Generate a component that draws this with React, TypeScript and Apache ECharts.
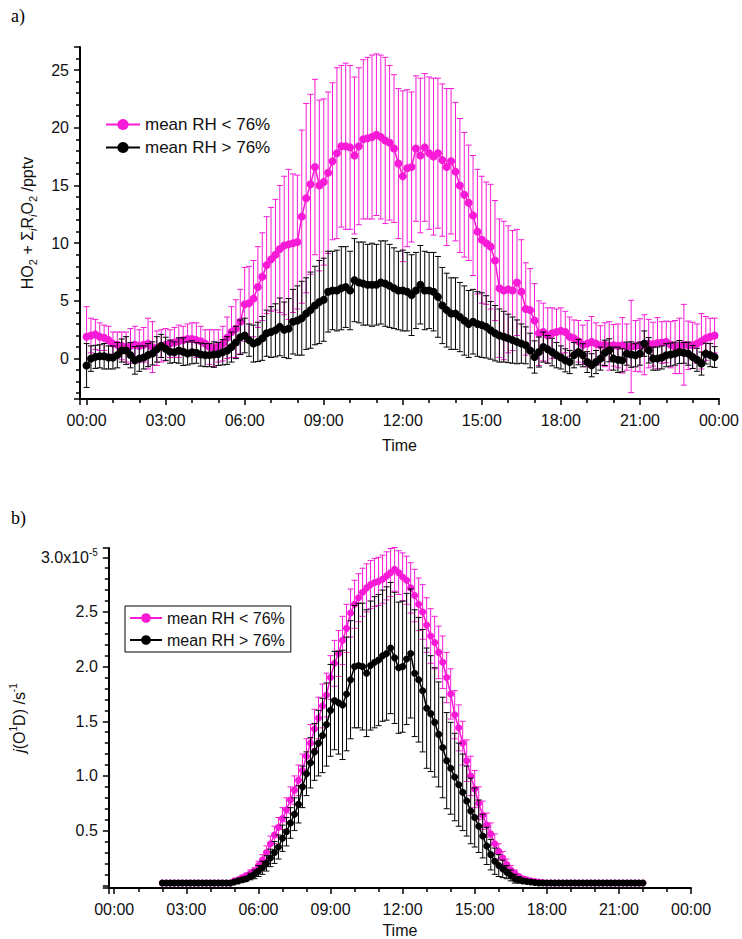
import React, { useEffect, useRef } from 'react';
import * as echarts from 'echarts';

const PINK = '#f81ad6';
const BLACK = '#000000';
const FONT = '"Liberation Sans", Arial, Helvetica, sans-serif';

const NAME_LOW = 'mean RH < 76%';
const NAME_HIGH = 'mean RH > 76%';

// ---- Panel a) HO2 + ΣRO2 (pptv), 10-min means 00:00 .. 23:50 ----
const STEP_A_MIN = 10;
const RO2_LOW = [
  1.9, 2.0, 2.1, 1.9, 1.8, 1.6,
  1.3, 1.2, 1.1, 1.0, 1.1, 1.2,
  1.1, 1.2, 1.3, 1.0, 0.9, 1.1,
  1.2, 1.3, 1.4, 1.5, 1.6, 1.7,
  1.7, 1.6, 1.5, 1.3, 1.0, 0.9,
  1.1, 1.3, 1.8, 2.3, 2.6, 3.2,
  4.7, 4.8, 5.2, 6.2, 7.1, 8.1,
  8.6, 9.0, 9.5, 9.8, 9.9, 10.0,
  10.1, 12.3, 13.9, 15.1, 16.6, 15.0,
  15.3, 16.1, 17.1, 17.8, 18.4, 18.4,
  18.3, 17.6, 18.4, 19.0, 19.1, 19.2,
  19.4, 19.2, 18.9, 18.7, 18.2, 16.9,
  15.8, 16.5, 16.6, 18.2, 17.6, 18.3,
  17.8, 17.5, 17.8, 17.2, 16.6, 17.1,
  16.2, 15.0, 14.2, 13.5, 12.4, 11.0,
  10.3, 10.0, 9.7, 8.5, 6.1, 5.9,
  6.0, 5.9, 6.6, 5.8, 4.3, 4.2,
  3.3, 2.2, 2.3, 2.0, 2.2, 2.3,
  2.4, 2.3, 1.9, 1.75, 1.5, 1.2,
  1.3, 1.45, 1.3, 1.15, 1.2, 1.1,
  1.15, 1.1, 1.15, 1.0, 1.05, 1.1,
  1.15, 1.2, 1.3, 1.25, 1.35, 1.4,
  1.45, 1.2, 1.0, 1.1, 1.2, 1.15,
  1.15, 1.3, 1.5, 1.75, 1.9, 2.0,
];
const RO2_LOW_ERR = [
  2.6, 1.5, 1.3, 1.2, 1.1, 1.2,
  1.0, 1.1, 1.2, 1.3, 1.5, 1.6,
  1.4, 1.5, 2.2, 2.2, 1.5, 1.4,
  1.4, 1.2, 1.3, 1.4, 1.2, 1.3,
  1.4, 1.5, 1.3, 1.2, 1.5, 1.6,
  1.4, 1.5, 1.8, 2.2, 2.5, 2.8,
  3.2, 3.2, 3.3, 3.5, 3.8, 4.2,
  4.5, 4.8, 5.5, 6.0, 6.5, 6.0,
  5.8, 7.5, 8.2, 7.8, 7.6, 7.4,
  7.2, 7.0, 6.8, 7.4, 7.0, 7.2,
  7.1, 6.8, 6.8, 6.9, 7.0, 7.1,
  7.0, 7.1, 7.2, 6.7, 6.4, 6.5,
  7.4, 6.8, 6.5, 6.3, 6.7, 6.4,
  6.6, 6.8, 6.5, 6.6, 6.8, 6.3,
  6.0, 5.8, 5.4, 5.0, 5.2, 5.4,
  5.5, 5.3, 5.4, 5.2, 6.0, 6.0,
  5.5, 5.2, 4.6, 4.5, 4.0, 3.6,
  3.2, 2.8, 2.5, 2.4, 2.2, 2.0,
  2.0, 1.8, 1.7, 1.6, 1.8, 1.7,
  2.0, 2.2, 1.8, 1.7, 1.9, 2.1,
  1.8, 1.9, 2.4, 2.0, 4.0, 2.2,
  2.3, 2.6, 2.1, 1.9, 2.2, 1.8,
  1.8, 2.0, 2.3, 2.4, 3.5, 2.1,
  2.0, 1.7, 2.4, 1.9, 1.6, 1.5,
];
const RO2_HIGH = [
  -0.6, 0.0, 0.15, 0.2, 0.2, 0.1,
  0.1, 0.3, 0.7, 0.7, 0.3, -0.15,
  0.0, 0.1, 0.3, 0.45, 0.8, 1.1,
  0.85, 0.6, 0.55, 0.7, 0.6, 0.45,
  0.55, 0.5, 0.35, 0.3, 0.3, 0.35,
  0.4, 0.55, 0.7, 1.0, 1.4, 1.85,
  2.0, 1.6, 1.3, 1.45, 1.75, 2.2,
  2.3, 2.45, 2.75, 2.5, 2.6, 3.2,
  3.3, 3.5, 3.9, 4.2, 4.6, 4.9,
  5.1, 5.8, 5.9, 5.9, 6.1, 6.2,
  5.9, 6.8, 6.6, 6.5, 6.4, 6.4,
  6.4, 6.6, 6.5, 6.3, 6.1, 5.9,
  5.9, 5.8, 5.5, 5.9, 6.4, 5.9,
  5.9, 5.8, 5.35, 4.6, 4.2, 3.9,
  3.9, 3.6, 3.3, 3.0, 3.2, 3.0,
  2.9, 2.75, 2.45, 2.2, 2.0, 1.9,
  1.75, 1.6, 1.45, 1.3, 1.15, 0.7,
  0.14, 0.57, 1.0, 0.8, 0.57, 0.3,
  0.1, -0.15, -0.3, 0.3, 0.57, 0.29,
  -0.3, -0.58, -0.3, 0.0, 0.5, 0.72,
  0.0, -0.1, -0.14, 0.43, 0.35, 0.29,
  0.43, 1.3, 0.72, 0.0, 0.0, 0.1,
  0.29, 0.35, 0.43, 0.57, 0.5, 0.43,
  0.14, -0.1, -0.43, 0.43, 0.3, 0.14,
];
const RO2_HIGH_ERR = [
  1.9, 1.1, 1.0, 1.0, 1.1, 1.0,
  1.0, 1.1, 1.0, 1.2, 1.1, 1.2,
  1.1, 1.0, 1.0, 1.0, 1.1, 1.0,
  1.0, 1.0, 0.9, 1.1, 1.2, 1.0,
  1.0, 0.9, 1.0, 1.0, 1.0, 1.1,
  1.0, 1.1, 1.2, 1.3, 1.4, 1.5,
  1.5, 1.4, 1.6, 1.7, 1.9, 2.0,
  2.2, 2.3, 2.5, 2.4, 2.6, 2.8,
  3.0, 3.2, 3.1, 3.3, 3.4, 3.6,
  3.6, 3.5, 3.4, 3.5, 3.6, 3.5,
  3.4, 3.6, 3.5, 3.6, 3.5, 3.6,
  3.5, 3.6, 3.7, 3.6, 3.5, 3.4,
  3.5, 3.4, 3.5, 3.3, 3.4, 3.4,
  3.3, 3.4, 3.5, 3.3, 3.2, 3.1,
  3.1, 3.0, 3.0, 2.9, 2.8, 2.8,
  2.8, 2.7, 2.5, 2.4, 2.3, 2.2,
  2.1, 2.0, 1.9, 1.7, 1.6, 1.5,
  1.4, 1.3, 1.3, 1.2, 1.2, 1.1,
  1.0, 1.0, 1.0, 1.1, 1.1, 1.0,
  0.9, 1.0, 1.0, 1.0, 1.1, 1.0,
  1.0, 1.1, 1.0, 1.0, 1.1, 1.0,
  1.0, 1.1, 1.1, 1.0, 1.0, 1.0,
  1.0, 1.0, 1.0, 1.0, 0.9, 1.0,
  1.0, 1.0, 1.0, 0.9, 1.0, 0.9,
];

// ---- Panel b) j(O1D) in units of 1e-5 s-1, 10-min means 02:00 .. 22:00 ----
const START_B_HOUR = 2;
const STEP_B_MIN = 10;
const JO1D_LOW = [
  0.02, 0.02, 0.02, 0.02, 0.02, 0.02,
  0.02, 0.02, 0.02, 0.02, 0.02, 0.02,
  0.02, 0.02, 0.02, 0.02, 0.02, 0.02,
  0.04, 0.05, 0.07, 0.09, 0.11, 0.13,
  0.18, 0.23, 0.30, 0.38, 0.46, 0.53,
  0.61, 0.69, 0.78, 0.87, 0.96, 1.05,
  1.18, 1.30, 1.43, 1.53, 1.64, 1.74,
  1.90, 2.03, 2.12, 2.24, 2.35, 2.49,
  2.57, 2.63, 2.68, 2.72, 2.75, 2.77,
  2.78, 2.80, 2.83, 2.86, 2.89, 2.86,
  2.82, 2.79, 2.72, 2.65, 2.57, 2.50,
  2.38, 2.28, 2.22, 2.13, 2.04, 1.90,
  1.75, 1.56, 1.44, 1.30, 1.14, 1.00,
  0.88, 0.75, 0.64, 0.55, 0.47, 0.38,
  0.31, 0.25, 0.19, 0.14, 0.11, 0.08,
  0.06, 0.05, 0.04, 0.035, 0.03, 0.025,
  0.02, 0.02, 0.02, 0.02, 0.02, 0.02,
  0.02, 0.02, 0.02, 0.02, 0.02, 0.02,
  0.02, 0.02, 0.02, 0.02, 0.02, 0.02,
  0.02, 0.02, 0.02, 0.02, 0.02, 0.02,
  0.02,
];
const JO1D_LOW_ERR = [
  0, 0, 0, 0, 0, 0,
  0, 0, 0, 0, 0, 0,
  0, 0, 0, 0, 0, 0,
  0.01, 0.01, 0.02, 0.02, 0.03, 0.03,
  0.04, 0.05, 0.06, 0.07, 0.08, 0.09,
  0.10, 0.11, 0.12, 0.13, 0.14, 0.15,
  0.16, 0.17, 0.18, 0.19, 0.20, 0.20,
  0.20, 0.21, 0.21, 0.22, 0.22, 0.22,
  0.22, 0.22, 0.22, 0.22, 0.22, 0.22,
  0.22, 0.22, 0.22, 0.22, 0.20, 0.20,
  0.22, 0.22, 0.23, 0.24, 0.24, 0.25,
  0.25, 0.25, 0.24, 0.24, 0.24, 0.23,
  0.23, 0.22, 0.21, 0.20, 0.19, 0.18,
  0.17, 0.15, 0.13, 0.11, 0.10, 0.09,
  0.07, 0.06, 0.05, 0.04, 0.03, 0.02,
  0.02, 0.01, 0.01, 0.01, 0, 0,
  0, 0, 0, 0, 0, 0,
  0, 0, 0, 0, 0, 0,
  0, 0, 0, 0, 0, 0,
  0, 0, 0, 0, 0, 0,
  0,
];
const JO1D_HIGH = [
  0.02, 0.02, 0.02, 0.02, 0.02, 0.02,
  0.02, 0.02, 0.02, 0.02, 0.02, 0.02,
  0.02, 0.02, 0.02, 0.02, 0.02, 0.02,
  0.03, 0.04, 0.05, 0.06, 0.08, 0.10,
  0.13, 0.16, 0.20, 0.25, 0.30, 0.35,
  0.43, 0.49, 0.57, 0.65, 0.74, 0.90,
  1.02, 1.12, 1.22, 1.30, 1.37, 1.47,
  1.60, 1.69, 1.67, 1.65, 1.75, 1.88,
  2.00, 2.01, 2.00, 1.94, 2.01, 2.04,
  2.06, 2.10, 2.12, 2.17, 2.08, 1.99,
  2.00, 2.07, 2.12, 1.94, 1.88, 1.78,
  1.62, 1.57, 1.49, 1.38, 1.26, 1.14,
  1.07, 0.99, 0.92, 0.85, 0.77, 0.68,
  0.62, 0.54, 0.45, 0.36, 0.28, 0.22,
  0.18, 0.15, 0.12, 0.09, 0.06, 0.05,
  0.04, 0.035, 0.03, 0.025, 0.02, 0.02,
  0.02, 0.02, 0.02, 0.02, 0.02, 0.02,
  0.02, 0.02, 0.02, 0.02, 0.02, 0.02,
  0.02, 0.02, 0.02, 0.02, 0.02, 0.02,
  0.02, 0.02, 0.02, 0.02, 0.02, 0.02,
  0.02,
];
const JO1D_HIGH_ERR = [
  0, 0, 0, 0, 0, 0,
  0, 0, 0, 0, 0, 0,
  0, 0, 0, 0, 0, 0,
  0.01, 0.01, 0.02, 0.02, 0.03, 0.04,
  0.05, 0.06, 0.07, 0.08, 0.10, 0.11,
  0.12, 0.13, 0.14, 0.15, 0.17, 0.19,
  0.20, 0.23, 0.26, 0.30, 0.34, 0.38,
  0.42, 0.45, 0.47, 0.50, 0.52, 0.54,
  0.56, 0.57, 0.58, 0.58, 0.59, 0.60,
  0.60, 0.60, 0.61, 0.60, 0.60, 0.60,
  0.60, 0.60, 0.59, 0.58, 0.57, 0.56,
  0.55, 0.53, 0.50, 0.48, 0.46, 0.44,
  0.42, 0.40, 0.38, 0.35, 0.32, 0.30,
  0.27, 0.24, 0.20, 0.17, 0.14, 0.12,
  0.10, 0.08, 0.06, 0.05, 0.04, 0.03,
  0.02, 0.01, 0.01, 0, 0, 0,
  0, 0, 0, 0, 0, 0,
  0, 0, 0, 0, 0, 0,
  0, 0, 0, 0, 0, 0,
  0, 0, 0, 0, 0, 0,
  0,
];

const hourA = (i: number) => (i * STEP_A_MIN) / 60;
const hourB = (i: number) => START_B_HOUR + (i * STEP_B_MIN) / 60;

const toPoints = (vals: number[], hour: (i: number) => number) => vals.map((v, i) => [hour(i), v]);
const toErr = (vals: number[], errs: number[], hour: (i: number) => number) =>
  vals.map((v, i) => [hour(i), v - errs[i], v + errs[i]]);

const timeLabel = (v: number) => {
  if (v < 0) return '';
  const h = Math.round(v) % 24;
  return (h < 10 ? '0' : '') + h + ':00';
};

const errRender = (color: string, cap: number) => (params: any, api: any) => {
  const x = api.value(0);
  const lo = api.value(1);
  const hi = api.value(2);
  if (hi - lo <= 0) return null;
  const p1 = api.coord([x, hi]);
  const p2 = api.coord([x, lo]);
  const st = { stroke: color, lineWidth: 1 };
  return {
    type: 'group',
    children: [
      { type: 'line', shape: { x1: p1[0], y1: p1[1], x2: p2[0], y2: p2[1] }, style: st },
      { type: 'line', shape: { x1: p1[0] - cap, y1: p1[1], x2: p1[0] + cap, y2: p1[1] }, style: st },
      { type: 'line', shape: { x1: p2[0] - cap, y1: p2[1], x2: p2[0] + cap, y2: p2[1] }, style: st },
    ],
  };
};

const axisCommon = {
  axisLine: { onZero: false, lineStyle: { color: '#000', width: 2 } },
  axisTick: { show: true, inside: false, length: 6, lineStyle: { color: '#000', width: 1.5 } },
  splitLine: { show: false },
};

export default function App() {
  const ref = useRef<HTMLDivElement>(null);
  useEffect(() => {
    document.body.style.margin = '0';
    const chart = echarts.init(ref.current as HTMLDivElement, null, { renderer: 'svg' });
    const labelStyle = { fontSize: 16, color: '#111', fontFamily: FONT };
    const option: any = {
      animation: false,
      backgroundColor: '#fff',
      textStyle: { fontFamily: FONT },
      graphic: [
        { type: 'text', left: 11, top: 7, style: { text: 'a)', font: '18px "Liberation Serif", "Times New Roman", serif', fill: '#000' } },
        { type: 'text', left: 11, top: 509, style: { text: 'b)', font: '18px "Liberation Serif", "Times New Roman", serif', fill: '#000' } },
      ],
      grid: [
        { left: 80, top: 47, width: 640, height: 352 },
        { left: 88, top: 548, width: 603, height: 340 },
      ],
      legend: [
        {
          left: 105, top: 116, orient: 'vertical', padding: 0, itemGap: 6,
          itemWidth: 34, itemHeight: 14, itemStyle: { borderWidth: 0 },
          textStyle: { fontSize: 17, color: '#111', fontFamily: FONT },
          data: [NAME_LOW, NAME_HIGH],
        },
        {
          left: 125, top: 606, orient: 'vertical', padding: [4, 6, 4, 4], itemGap: 6,
          itemWidth: 32, itemHeight: 12,
          borderColor: '#000', borderWidth: 1,
          textStyle: { fontSize: 16, color: '#111', fontFamily: FONT },
          data: [NAME_LOW, NAME_HIGH],
        },
      ],
      xAxis: [
        {
          gridIndex: 0, type: 'value', min: -0.25, max: 24, splitNumber: 8, minInterval: 3, maxInterval: 3,
          ...axisCommon,
          minorTick: { show: true, splitNumber: 3, length: 4, lineStyle: { color: '#000', width: 1.5 } },
          axisLabel: { ...labelStyle, margin: 13, formatter: timeLabel, showMinLabel: false },
          name: 'Time', nameLocation: 'middle', nameGap: 38,
          nameTextStyle: { ...labelStyle },
        },
        {
          gridIndex: 1, type: 'value', min: -0.225, max: 24, splitNumber: 8, minInterval: 3, maxInterval: 3,
          ...axisCommon,
          minorTick: { show: true, splitNumber: 3, length: 4, lineStyle: { color: '#000', width: 1.5 } },
          axisLabel: { ...labelStyle, margin: 13, formatter: timeLabel, showMinLabel: false },
          name: 'Time', nameLocation: 'middle', nameGap: 34,
          nameTextStyle: { ...labelStyle },
        },
      ],
      yAxis: [
        {
          gridIndex: 0, type: 'value', min: -3.5, max: 27, splitNumber: 6, minInterval: 5, maxInterval: 5,
          ...axisCommon,
          minorTick: { show: true, splitNumber: 5, length: 4, lineStyle: { color: '#000', width: 1.5 } },
          axisLabel: { ...labelStyle, margin: 11, showMinLabel: false, showMaxLabel: false },
          name: 'HO{s|2} + Σ{si|i}R{si|i}O{s|2} /pptv', nameLocation: 'middle', nameGap: 42,
          nameTextStyle: {
            ...labelStyle, lineHeight: 22,
            rich: {
              s: { fontSize: 11, verticalAlign: 'bottom', color: '#111', fontFamily: FONT },
              si: { fontSize: 11, fontStyle: 'italic', verticalAlign: 'bottom', color: '#111', fontFamily: FONT },
            },
          },
        },
        {
          gridIndex: 1, type: 'value', min: -0.025, max: 3.085, splitNumber: 6, minInterval: 0.5, maxInterval: 0.5,
          ...axisCommon,
          minorTick: { show: true, splitNumber: 5, length: 4, lineStyle: { color: '#000', width: 1.5 } },
          axisLabel: {
            ...labelStyle, margin: 11, showMinLabel: false, showMaxLabel: false, lineHeight: 20,
            formatter: (v: number) => {
              if (Math.abs(v) < 1e-9) return '';
              if (Math.abs(v - 3) < 1e-9) return '3.0x10{sup|-5}';
              return v.toFixed(1);
            },
            rich: { sup: { fontSize: 10, verticalAlign: 'top', color: '#111', fontFamily: FONT } },
          },
          name: '{it|j}(O{sup|1}D) /s{sup|-1}', nameLocation: 'middle', nameGap: 40,
          nameTextStyle: {
            ...labelStyle, lineHeight: 22,
            rich: {
              it: { fontSize: 16, fontStyle: 'italic', color: '#111', fontFamily: FONT },
              sup: { fontSize: 10, verticalAlign: 'top', color: '#111', fontFamily: FONT },
            },
          },
        },
      ],
      series: [
        {
          type: 'custom', name: NAME_LOW + ' err a', xAxisIndex: 0, yAxisIndex: 0,
          renderItem: errRender(PINK, 3), encode: { x: 0, y: [1, 2] },
          data: toErr(RO2_LOW, RO2_LOW_ERR, hourA), z: 1, silent: true,
        },
        {
          type: 'line', name: NAME_LOW, xAxisIndex: 0, yAxisIndex: 0,
          data: toPoints(RO2_LOW, hourA), symbol: 'circle', symbolSize: 8,
          itemStyle: { color: PINK }, lineStyle: { color: PINK, width: 1.5 }, z: 2,
        },
        {
          type: 'custom', name: NAME_HIGH + ' err a', xAxisIndex: 0, yAxisIndex: 0,
          renderItem: errRender(BLACK, 3), encode: { x: 0, y: [1, 2] },
          data: toErr(RO2_HIGH, RO2_HIGH_ERR, hourA), z: 3, silent: true,
        },
        {
          type: 'line', name: NAME_HIGH, xAxisIndex: 0, yAxisIndex: 0,
          data: toPoints(RO2_HIGH, hourA), symbol: 'circle', symbolSize: 8,
          itemStyle: { color: BLACK }, lineStyle: { color: BLACK, width: 1.5 }, z: 4,
        },
        {
          type: 'custom', name: NAME_LOW + ' err b', xAxisIndex: 1, yAxisIndex: 1,
          renderItem: errRender(PINK, 3), encode: { x: 0, y: [1, 2] },
          data: toErr(JO1D_LOW, JO1D_LOW_ERR, hourB), z: 1, silent: true,
        },
        {
          type: 'line', name: NAME_LOW, xAxisIndex: 1, yAxisIndex: 1,
          data: toPoints(JO1D_LOW, hourB), symbol: 'circle', symbolSize: 7,
          itemStyle: { color: PINK }, lineStyle: { color: PINK, width: 1.5 }, z: 2,
        },
        {
          type: 'custom', name: NAME_HIGH + ' err b', xAxisIndex: 1, yAxisIndex: 1,
          renderItem: errRender(BLACK, 3), encode: { x: 0, y: [1, 2] },
          data: toErr(JO1D_HIGH, JO1D_HIGH_ERR, hourB), z: 3, silent: true,
        },
        {
          type: 'line', name: NAME_HIGH, xAxisIndex: 1, yAxisIndex: 1,
          data: toPoints(JO1D_HIGH, hourB), symbol: 'circle', symbolSize: 7,
          itemStyle: { color: BLACK }, lineStyle: { color: BLACK, width: 1.5 }, z: 4,
        },
      ],
    };
    chart.setOption(option);
    return () => chart.dispose();
  }, []);
  return <div ref={ref} style={{ width: 742, height: 939 }} />;
}
